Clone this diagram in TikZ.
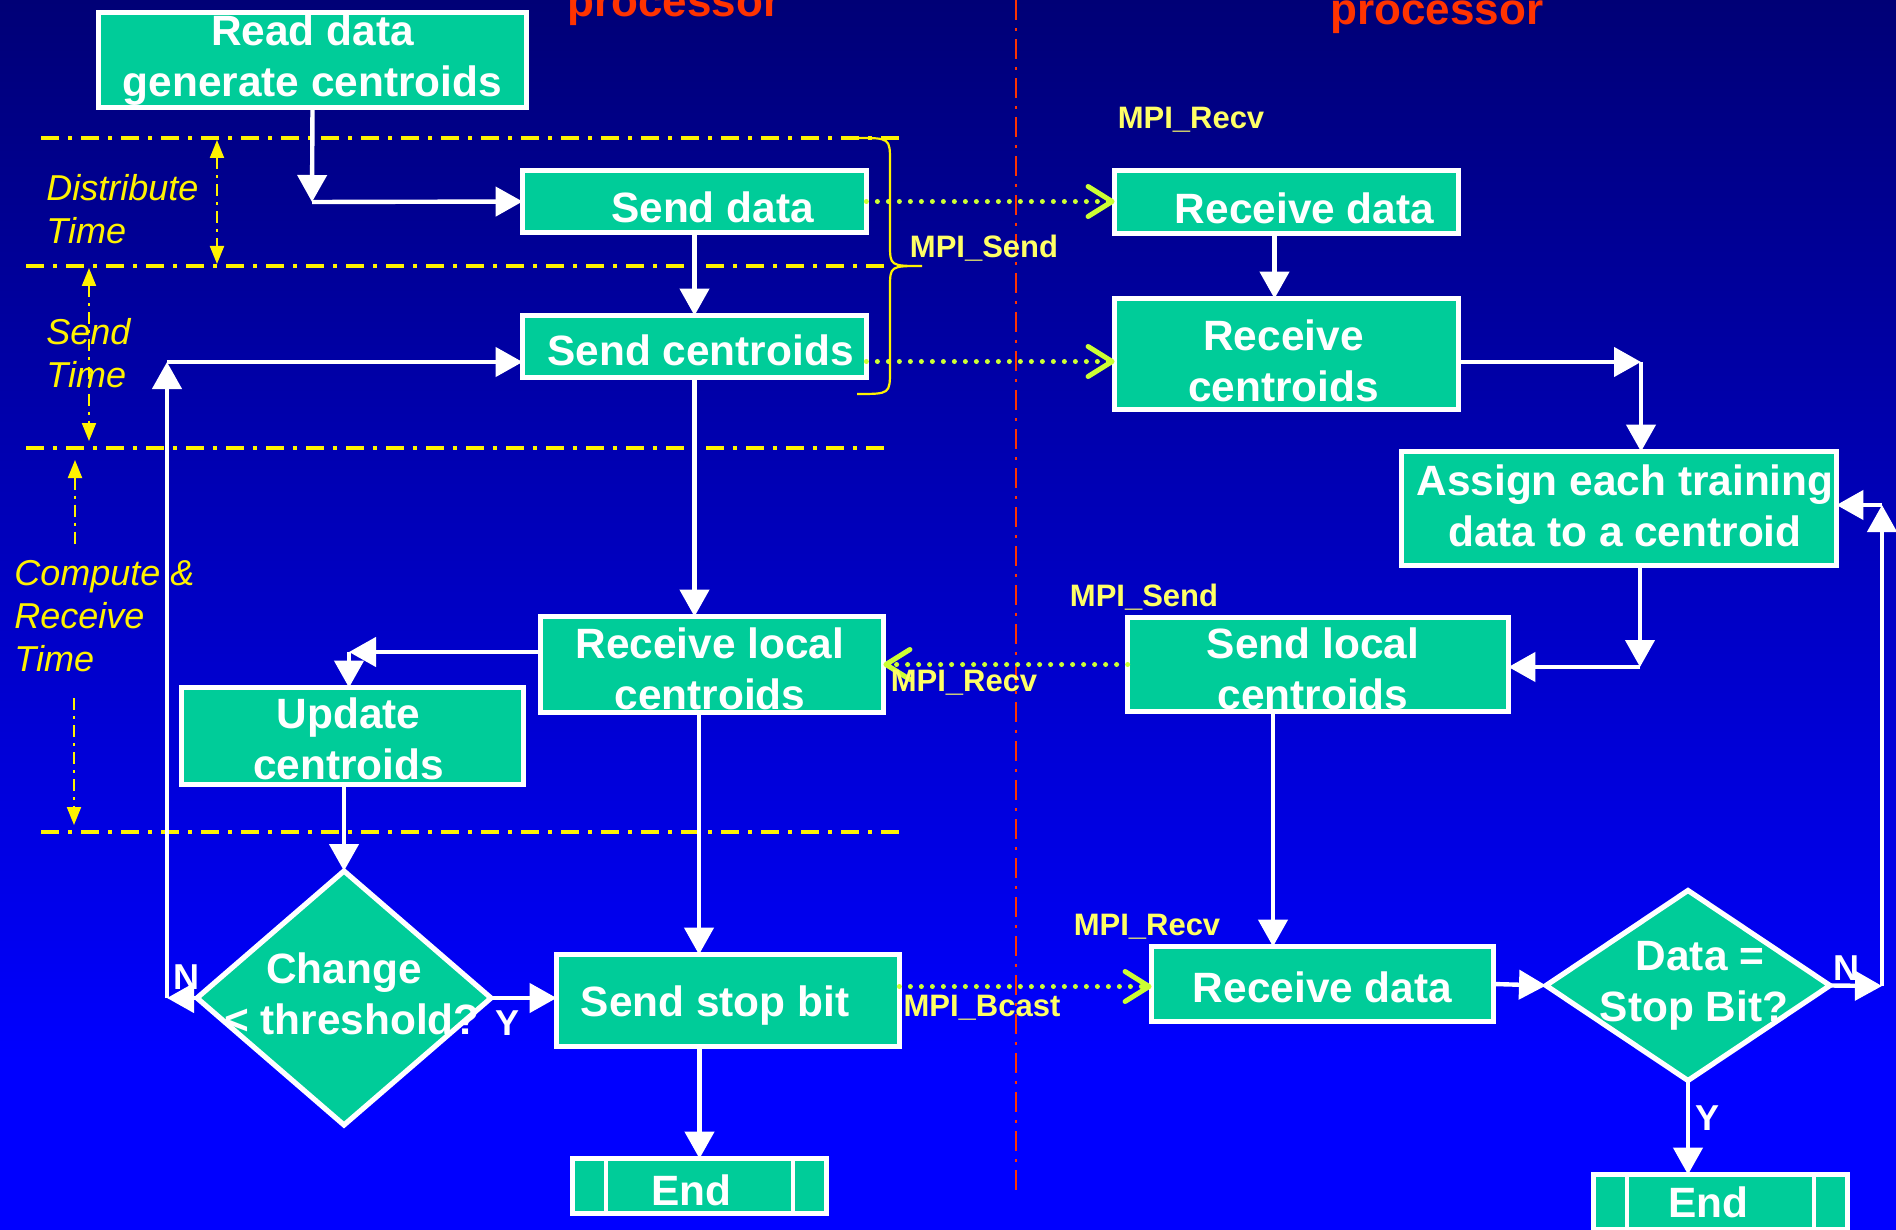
\documentclass[tikz,border=0pt]{standalone}
\usepackage{fontspec}
\setmainfont{Liberation Sans}
\usetikzlibrary{arrows.meta,shapes.geometric}
\definecolor{bgtop}{RGB}{0,0,118}
\definecolor{bgbot}{RGB}{0,0,255}
\definecolor{boxfill}{RGB}{0,204,153}
\definecolor{msgcol}{RGB}{204,255,51}
\definecolor{lblcol}{RGB}{255,255,102}
\definecolor{divred}{RGB}{255,51,0}
% #1 name, #2 centre, #3 width, #4 height, #5 text x/y offset (px), #6 text
\newcommand\procnode[6]{%
  \node[procbox,minimum width=#3,minimum height=#4] (#1) at #2 {};
  \node[boxtxt] (#1-txt) at ([shift={#5}]#1.center) {#6};}
\begin{document}
\begin{tikzpicture}[x=0.5pt,y=-0.5pt,
  procbox/.style={rectangle,draw=white,line width=2.6pt,fill=boxfill,inner sep=0pt,outer sep=0pt},
  boxtxt/.style={text=white,font=\bfseries\fontsize{21.2}{25.5}\selectfont,align=center,inner sep=0pt},
  decis/.style={diamond,draw=white,line width=2.6pt,fill=boxfill,inner sep=0pt,outer sep=0pt},
  flowarr/.style={draw=white,line width=2.2pt,-{Triangle[length=13.5pt,width=14.5pt]}},
  msgarr/.style={draw=msgcol,line width=2.5pt,line cap=round,dash pattern=on 0pt off 5.5pt,
    -{Straight Barb[length=12pt,width=15pt,round]}},
  sepline/.style={draw=yellow,line width=2pt,dash pattern=on 9pt off 4.5pt on 2pt off 4.5pt},
  timearr/.style={draw=yellow,line width=1pt,dash pattern=on 6pt off 3pt on 1.5pt off 3pt},
  ttip/.tip={Triangle[length=9pt,width=7pt]},
  mpilbl/.style={text=lblcol,font=\bfseries\fontsize{15.5}{18}\selectfont,inner sep=0pt},
  timelbl/.style={text=yellow,font=\itshape\fontsize{18}{21.5}\selectfont,align=left,inner sep=0pt,anchor=west},
  ynlbl/.style={text=white,font=\bfseries\fontsize{18}{20}\selectfont,inner sep=0pt},
  proclbl/.style={text=divred,font=\bfseries\fontsize{22}{26}\selectfont,inner sep=0pt,anchor=base}
]
\useasboundingbox (0,0) rectangle (1896,1230);
\clip (0,0) rectangle (1896,1230);
% background
\fill[bgbot] (0,0) rectangle (1896,1230);
\shade[top color=bgtop,bottom color=bgbot] (0,0) rectangle (1896,1060);

% processor headings (cut by the top edge)
\node[proclbl] (ptitleA) at (674,17) {processor};
\node[proclbl] (ptitleB) at (1437,25) {processor};

% red divider
\draw[divred,line width=1.2pt,dash pattern=on 10pt off 4pt on 1.5pt off 4pt] (1016,0) -- (1016,1190);

% yellow phase separators
\draw[sepline] (41,138) -- (902,138);
\draw[sepline] (26,266) -- (886,266);
\draw[sepline] (26,448) -- (886,448);
\draw[sepline] (41,832) -- (902,832);

% time labels and arrows
\node[timelbl] (tdist) at (46,209) {Distribute\\Time};
\node[timelbl] (tsend) at (46,353) {Send\\Time};
\node[timelbl] (tcomp) at (14,616) {Compute \&\\Receive\\Time};
\draw[timearr,ttip-ttip] (217,140) -- (217,264);
\draw[timearr,ttip-ttip] (89,268) -- (89,441);
\draw[timearr,ttip-] (75,460) -- (75,547);
\draw[timearr,-ttip] (74,698) -- (74,825);

% boxes
\procnode{read}{(312.5,60)}{213.9pt}{47.4pt}{(0,0)}{Read data\\generate centroids}
\procnode{senddata}{(694.5,201.5)}{171.9pt}{30.9pt}{(18,6)}{Send data}
\procnode{sendcent}{(694.5,346.5)}{171.9pt}{30.9pt}{(6,4)}{Send centroids}
\procnode{recvdata}{(1286.5,202)}{171.9pt}{31.4pt}{(18,6)}{Receive data}
\procnode{recvcent}{(1286.5,354)}{171.9pt}{55.4pt}{(-3,7)}{Receive\\centroids}
\procnode{assign}{(1619,508.5)}{217.4pt}{56.9pt}{(6,-3)}{Assign each training\\data to a centroid}
\procnode{sendlocal}{(1318,664.5)}{190.4pt}{46.9pt}{(-5,4)}{Send local\\centroids}
\procnode{recvlocal}{(712,664.5)}{171.4pt}{47.9pt}{(-2,4)}{Receive local\\centroids}
\procnode{update}{(352.5,736)}{170.9pt}{48.4pt}{(-4,3)}{Update\\centroids}
\procnode{stopbit}{(728,1000.5)}{171.4pt}{45.9pt}{(-13,5)}{Send stop bit}
\procnode{recvdata2}{(1322.5,984)}{170.9pt}{37.4pt}{(0,3)}{Receive data}
\procnode{endA}{(699.5,1186)}{126.9pt}{27.4pt}{(-8,4)}{End}
\procnode{endB}{(1720.5,1202)}{126.9pt}{27.4pt}{(-12,0)}{End}
\foreach \e in {endA,endB}{
  \draw[white,line width=2pt] ([xshift=16.5pt]\e.north west) -- ([xshift=16.5pt]\e.south west);
  \draw[white,line width=2pt] ([xshift=-16.5pt]\e.north east) -- ([xshift=-16.5pt]\e.south east);
}

% decisions
\node[decis,minimum width=147pt,minimum height=127pt] (change) at (344,998) {};
\node[boxtxt] (change-txt) at ([shift={(0,-4)}]change.center)
  {\makebox[0pt]{Change}\\\makebox[0pt]{\hspace*{8pt}< threshold?}};
\node[decis,minimum width=142pt,minimum height=95pt] (stop) at (1688,985.5) {};
\node[boxtxt] (stop-txt) at ([shift={(0,0)}]stop.center)
  {\makebox[0pt]{\hspace*{12pt}Data =}\\\makebox[0pt]{\hspace*{6pt}Stop Bit?}};

% corner coordinates
\coordinate (c1) at (312,202);
\coordinate (c2) at (349,652);
\coordinate (c3) at (167,998);
\coordinate (c4) at (167,362);
\coordinate (c5) at (1641,362);
\coordinate (c6) at (1640,667);
\coordinate (c7) at (1882,986);
\coordinate (c8) at (1882,505);

% master flow
\draw[flowarr] (read.south) -- (c1);
\draw[flowarr] (c1) -- (senddata.west);
\draw[flowarr] (senddata.south) -- (sendcent.north);
\draw[flowarr] (sendcent.south) -- (sendcent.south |- recvlocal.north);
\draw[flowarr] (c2 -| recvlocal.west) -- (c2);
\draw[flowarr] (c2) -- (c2 |- update.north);
\draw[flowarr] (change.north |- update.south) -- (change.north);
\draw[flowarr] (change.east) -- (change.east -| stopbit.west);
\draw[flowarr] (change.west) -- (c3);
\draw[flowarr] (c3) -- (c4);
\draw[flowarr] (c4) -- (c4 -| sendcent.west);
\draw[flowarr] ([xshift=-6.5pt]recvlocal.south) -- ([xshift=-6.5pt]recvlocal.south |- stopbit.north);
\draw[flowarr] (endA.north |- stopbit.south) -- (endA.north);

% worker flow
\draw[flowarr] ([xshift=-6pt]recvdata.south) -- ([xshift=-6pt]recvdata.south |- recvcent.north);
\draw[flowarr] (recvcent.east |- c5) -- (c5);
\draw[flowarr] (c5) -- (c5 |- assign.north);
\draw[flowarr] (c6 |- assign.south) -- (c6);
\draw[flowarr] (c6) -- (c6 -| sendlocal.east);
\draw[flowarr] ([xshift=-22.5pt]sendlocal.south) -- ([xshift=-22.5pt]sendlocal.south |- recvdata2.north);
\draw[flowarr] (recvdata2.east) -- (stop.west);
\draw[flowarr] (stop.east) -- (c7);
\draw[flowarr] (c7) -- (c8);
\draw[flowarr] (c8) -- (c8 -| assign.east);
\draw[flowarr] (stop.south) -- (stop.south |- endB.north);

% messages
\draw[msgarr] (senddata.east) -- (senddata.east -| recvdata.west);
\draw[msgarr] ([yshift=-7.5pt]sendcent.east) -- ([yshift=-7.5pt]sendcent.east -| recvcent.west);
\draw[msgarr] (sendlocal.west) -- (sendlocal.west -| recvlocal.east);
\draw[msgarr] ([yshift=7pt]stopbit.east) -- ([yshift=7pt]stopbit.east -| recvdata2.west);

% brace
\draw[yellow,line width=1.1pt] (857,138) .. controls (890,138) .. (890,162) -- (890,244)
  .. controls (890,266) .. (922,266) .. controls (890,266) .. (890,288) -- (890,370)
  .. controls (890,394) .. (857,394);

% MPI labels
\node[mpilbl] (lrecvA) at (1191,120) {MPI\_Recv};
\node[mpilbl] (lsendA) at (984,248) {MPI\_Send};
\node[mpilbl] (lsendB) at (1144,597) {MPI\_Send};
\node[mpilbl] (lrecvB) at (964,683) {MPI\_Recv};
\node[mpilbl] (lrecvC) at (1147,927) {MPI\_Recv};
\node[mpilbl] (lbcast) at (982,1008) {MPI\_Bcast};

% Y / N labels
\node[ynlbl] (nA) at (186,977) {N};
\node[ynlbl] (yA) at (507,1023) {Y};
\node[ynlbl] (nB) at (1846,968) {N};
\node[ynlbl] (yB) at (1707,1118) {Y};
\end{tikzpicture}
\end{document}
